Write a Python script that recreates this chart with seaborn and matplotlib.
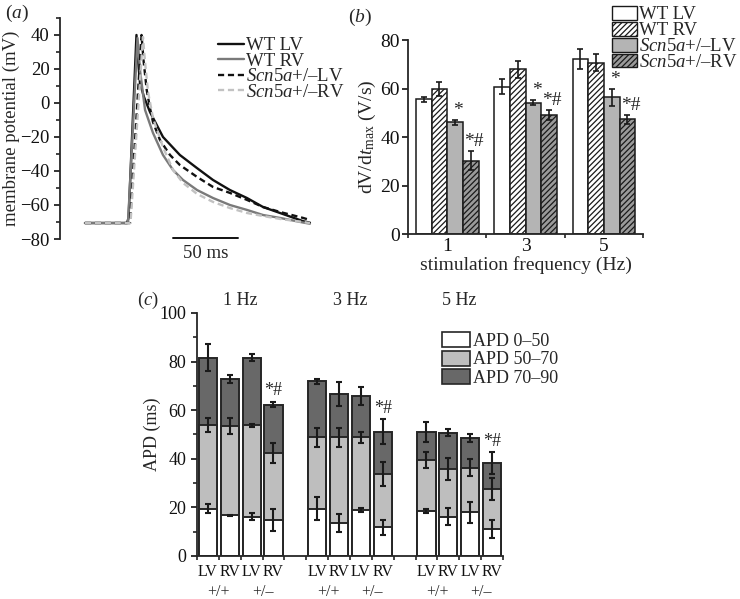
import matplotlib
matplotlib.use("Agg")
import pandas as pd
import matplotlib.pyplot as plt
import matplotlib.transforms as mtransforms
from matplotlib.patches import Patch
from matplotlib.lines import Line2D
from matplotlib.ticker import MultipleLocator, FixedLocator
import seaborn as sns

# ---------------- (a) action potential traces (ms, mV)
wt_lv_t = [0, 32.3, 33.5, 39.6, 40.8, 42.3, 45.4, 50, 60, 73, 86, 98.5, 111.5, 124.6, 137, 150, 167.7, 173]
wt_lv_v = [-70.6, -70.6, -67.6, 40, 25.3, 11.8, 3.5, -5.3, -20, -30.6, -38.2, -45.3, -51.2, -55.9, -61.2, -64.7, -69.5, -70.4]

wt_rv_t = [0, 33.1, 40.4, 42.3, 46.2, 52.3, 60, 67.7, 75.4, 86.2, 98.5, 111.5, 124.6, 137, 150, 167.7, 173]
wt_rv_v = [-70.6, -70.6, 38.2, 19.4, -4.1, -17.6, -30.6, -39.4, -45.3, -51.2, -55.9, -60, -62.9, -65.9, -67.6, -70.3, -71.0]

scn_lv_t = [0, 34.6, 43.5, 45, 47.5, 50, 52.3, 57.7, 65.4, 73, 86.2, 98.5, 111.5, 124.6, 137, 150, 167.7, 173]
scn_lv_v = [-70.6, -70.6, 40, 25.3, 7.6, -3, -11.2, -21.8, -30.6, -36.5, -43.5, -49.4, -52.9, -57, -61.2, -64.1, -67.6, -68.8]

scn_rv_t = [0, 35, 44.6, 46.2, 48.5, 52.3, 56.2, 60, 67.7, 75.4, 86.2, 98.5, 111.5, 124.6, 137, 150, 167.7, 173]
scn_rv_v = [-70.6, -70.6, 38.8, 24.1, 6.5, -8.8, -17.6, -25.9, -39.4, -47, -53.5, -58.2, -61.8, -64.7, -66.5, -68.2, -70, -70.6]

# ---------------- (b) dV/dt max (V/s)
freqs = ["1", "3", "5"]
groups = ["WT LV", "WT RV", "Scn5a+/–LV", "Scn5a+/–RV"]
wt_lv_dvdt = [55.6, 60.8, 72.2]
wt_lv_err = [1.0, 3.0, 4.2]
wt_rv_dvdt = [59.7, 67.9, 70.7]
wt_rv_err = [2.9, 3.6, 3.4]
scn_lv_dvdt = [46.0, 54.2, 56.3]
scn_lv_err = [1.2, 1.1, 3.6]
scn_rv_dvdt = [30.3, 49.1, 47.3]
scn_rv_err = [4.1, 2.2, 1.9]

# ---------------- (c) stacked APD (ms), cumulative tops of each segment
c_bars = ["1 Hz LV +/+", "1 Hz RV +/+", "1 Hz LV +/–", "1 Hz RV +/–",
          "3 Hz LV +/+", "3 Hz RV +/+", "3 Hz LV +/–", "3 Hz RV +/–",
          "5 Hz LV +/+", "5 Hz RV +/+", "5 Hz LV +/–", "5 Hz RV +/–"]
apd50 = [19.5, 16.7, 16.2, 14.8, 19.5, 13.4, 18.9, 11.8, 18.5, 16.2, 17.9, 11.1]
apd50_err = [2.0, 0.2, 1.5, 4.4, 4.7, 3.7, 1.0, 3.1, 1.0, 3.6, 4.2, 3.9]
apd70 = [53.8, 53.4, 53.7, 42.3, 48.8, 48.8, 48.8, 33.6, 39.5, 35.8, 36.4, 27.5]
apd70_err = [2.9, 3.4, 0.8, 4.0, 3.9, 4.0, 2.3, 4.9, 3.3, 4.5, 3.6, 4.6]
apd90 = [81.6, 72.7, 81.6, 62.3, 71.9, 66.6, 65.9, 51.1, 51.1, 50.7, 48.6, 38.1]
apd90_err = [5.5, 1.7, 1.4, 1.1, 1.0, 4.9, 3.8, 5.1, 4.1, 1.5, 1.8, 4.5]
c_freq_labels = ["1 Hz", "3 Hz", "5 Hz"]

sns.set_theme(style="ticks")
plt.rcParams["font.family"] = ["Liberation Serif", "DejaVu Serif"]
plt.rcParams["mathtext.fontset"] = "custom"
plt.rcParams["mathtext.rm"] = "Liberation Serif"
plt.rcParams["mathtext.it"] = "Liberation Serif:italic"
plt.rcParams["axes.linewidth"] = 1.3
plt.rcParams["hatch.linewidth"] = 0.9

FS_A = 13.5
FS_B = 14
FS_C = 13

fig = plt.figure(figsize=(7.4, 5.99), dpi=100)


def style_ticks(ax, fs):
    ax.tick_params(axis="both", which="major", direction="out", length=4,
                   width=1.2, labelsize=fs, color="#111111", labelcolor="#111111")
    ax.tick_params(axis="both", which="minor", direction="out", length=3,
                   width=1.1, color="#111111")


# ================= panel (a)
ax_a = fig.add_axes([0.0811, 0.601, 0.3514, 0.369])
traces = [
    (wt_lv_t, wt_lv_v, "WT LV", "#111111", "-"),
    (wt_rv_t, wt_rv_v, "WT RV", "#7a7a7a", "-"),
    (scn_lv_t, scn_lv_v, r"$\mathit{Scn5a}$+/–LV", "#111111", (0, (2.6, 1.6))),
    (scn_rv_t, scn_rv_v, r"$\mathit{Scn5a}$+/–RV", "#c2c2c2", (0, (2.6, 1.6))),
]
handles_a = []
for t, v, name, col, ls in traces:
    sns.lineplot(x=t, y=v, ax=ax_a, color=col, linestyle=ls, linewidth=1.7,
                 estimator=None, sort=False)
    handles_a.append(Line2D([0], [0], color=col, linestyle=ls, linewidth=1.7, label=name))

ax_a.set_xlim(-19.2, 180.8)
ax_a.set_ylim(-80, 50)
ax_a.yaxis.set_major_locator(FixedLocator([-80, -60, -40, -20, 0, 20, 40]))
ax_a.yaxis.set_minor_locator(MultipleLocator(10))
ax_a.set_xticks([])
for s in ["top", "right", "bottom"]:
    ax_a.spines[s].set_visible(False)
ax_a.set_ylabel("membrane potential (mV)", fontsize=FS_A)
ax_a.yaxis.set_label_coords(-0.152, 0.5)
style_ticks(ax_a, FS_A)
ax_a.set_yticklabels(["−80", "−60", "−40", "−20", "0", "20", "40"])

# 50 ms scale bar
ax_a.plot([68, 118], [-79.5, -79.5], color="#111111", lw=1.4, clip_on=False)
ax_a.text(93, -83.5, "50 ms", ha="center", va="top", fontsize=FS_A, clip_on=False)

fig.legend(handles=handles_a, loc="upper left", bbox_to_anchor=(218 / 740, 1 - 37 / 599),
           frameon=False, fontsize=FS_A, handlelength=1.4, handletextpad=0.12,
           labelspacing=-0.08, borderpad=0, borderaxespad=0)
fig.text(17 / 740, 1 - 13 / 599, r"($\mathit{a}$)", fontsize=FS_A + 0.5, ha="center", va="center")

# ================= panel (b)
ax_b = fig.add_axes([0.5514, 0.6093, 0.3176, 0.3239])
df_b = pd.DataFrame({
    "freq": freqs * 4,
    "group": [g for g in groups for _ in freqs],
    "dvdt": wt_lv_dvdt + wt_rv_dvdt + scn_lv_dvdt + scn_rv_dvdt,
    "err": wt_lv_err + wt_rv_err + scn_lv_err + scn_rv_err,
})
b_fill = ["white", "white", "#b4b4b4", "#9a9a9a"]
b_hatch = [None, "//////", None, "//////"]
sns.barplot(data=df_b, x="freq", y="dvdt", hue="group", order=freqs, hue_order=groups,
            palette=b_fill, saturation=1, errorbar=None, width=0.8, legend=False,
            edgecolor="#1a1a1a", linewidth=1.1, ax=ax_b)

b_marks = [None, None, "*", "*#"]
for cont, g, hatch, mark in zip(ax_b.containers, groups, b_hatch, b_marks):
    sub = df_b[df_b["group"] == g]
    xs = []
    for bar in cont:
        if hatch:
            bar.set_hatch(hatch)
        xs.append(bar.get_x() + bar.get_width() / 2)
    ax_b.errorbar(xs, sub["dvdt"], yerr=sub["err"], fmt="none", ecolor="#1a1a1a",
                  elinewidth=1.2, capsize=2.5, capthick=1.2)
    if mark:
        for x, y, e in zip(xs, sub["dvdt"], sub["err"]):
            ax_b.text(x + 0.04, y + e + 0.3, mark, ha="center", va="bottom", fontsize=FS_B)

ax_b.set_xlim(-0.5, 2.5)
ax_b.set_ylim(0, 80)
ax_b.yaxis.set_major_locator(MultipleLocator(20))
ax_b.xaxis.set_minor_locator(FixedLocator([-0.5, 0.5, 1.5, 2.5]))
sns.despine(ax=ax_b)
style_ticks(ax_b, FS_B)
ax_b.tick_params(axis="y", which="major", pad=2)
ax_b.tick_params(axis="x", which="major", length=0, pad=3)
ax_b.set_xlabel("stimulation frequency (Hz)", fontsize=FS_B)
ax_b.xaxis.set_label_coords(0.5, -0.115)
ax_b.set_ylabel(r"dV/d$\mathit{t}$$_{\rm max}$ (V/s)", fontsize=FS_B)
ax_b.yaxis.set_label_coords(-0.128, 0.5)

handles_b = [Patch(facecolor=f, edgecolor="#1a1a1a", hatch=h, linewidth=1.0,
                   label=(r"$\mathit{Scn5a}$" + g[5:]) if g.startswith("Scn5a") else g)
             for f, h, g in zip(b_fill, b_hatch, groups)]
fig.legend(handles=handles_b, loc="upper left", bbox_to_anchor=(612 / 740, 1 - 6 / 599),
           frameon=False, fontsize=FS_A, handlelength=1.35, handleheight=0.75,
           handletextpad=0.1, labelspacing=-0.08, borderpad=0, borderaxespad=0)
fig.text(360 / 740, 1 - 17 / 599, r"($\mathit{b}$)", fontsize=FS_A + 0.5, ha="center", va="center")

# ================= panel (c)
ax_c = fig.add_axes([0.2662, 0.0718, 0.4135, 0.4057])
c_order = c_bars[:4] + ["gap1"] + c_bars[4:8] + ["gap2"] + c_bars[8:]
df_c = pd.DataFrame({"bar": c_bars, "apd50": apd50, "apd70": apd70, "apd90": apd90})
seg_cols = {"apd90": "#686868", "apd70": "#bebebe", "apd50": "white"}
for col in ["apd90", "apd70", "apd50"]:
    sns.barplot(data=df_c, x="bar", y=col, order=c_order, color=seg_cols[col],
                saturation=1, errorbar=None, width=0.83, edgecolor="#262626",
                linewidth=1.4, ax=ax_c)

xpos = [c_order.index(b) for b in c_bars]
for tops, errs in [(apd50, apd50_err), (apd70, apd70_err), (apd90, apd90_err)]:
    ax_c.errorbar(xpos, tops, yerr=errs, fmt="none", ecolor="#1a1a1a",
                  elinewidth=1.5, capsize=2.5, capthick=1.5, zorder=5)

# significance marks over the +/- RV bars
for b in c_bars:
    if b.endswith("RV +/–"):
        i = c_bars.index(b)
        ax_c.text(xpos[i], apd90[i] + apd90_err[i] + 1.0, "*#", ha="center",
                  va="bottom", fontsize=FS_C)

ax_c.set_xlim(-0.5, 13.5)
ax_c.set_ylim(0, 100)
ax_c.yaxis.set_major_locator(MultipleLocator(20))
ax_c.yaxis.set_minor_locator(MultipleLocator(10))
ax_c.set_xticks(xpos)
ax_c.set_xticklabels([b.split()[2] for b in c_bars])
ax_c.xaxis.set_minor_locator(FixedLocator([p - 0.5 for p in range(15)]))
sns.despine(ax=ax_c)
style_ticks(ax_c, FS_C)
ax_c.tick_params(axis="x", which="major", length=0, pad=6, labelsize=11.5)
ax_c.set_xlabel("")
ax_c.set_ylabel("APD (ms)", fontsize=FS_C)
ax_c.yaxis.set_label_coords(-0.118, 0.5)

trans = mtransforms.blended_transform_factory(ax_c.transData, ax_c.transAxes)
for k, fl in enumerate(c_freq_labels):
    grp = c_bars[4 * k:4 * k + 4]
    p = [c_order.index(b) for b in grp]
    ax_c.text((p[0] + p[1]) / 2, -0.148, "+/+", transform=trans, ha="center",
              va="center", fontsize=11.5)
    ax_c.text((p[2] + p[3]) / 2, -0.148, "+/–", transform=trans, ha="center",
              va="center", fontsize=11.5)
    ax_c.text((p[0] + p[3]) / 2, 1.05, fl, transform=trans, ha="center",
              va="center", fontsize=FS_C)

handles_c = [Patch(facecolor=seg_cols[k], edgecolor="#262626", linewidth=1.2, label=l)
             for k, l in [("apd50", "APD 0–50"), ("apd70", "APD 50–70"), ("apd90", "APD 70–90")]]
fig.legend(handles=handles_c, loc="upper left", bbox_to_anchor=(442 / 740, 1 - 332 / 599),
           frameon=False, fontsize=FS_C, handlelength=1.55, handleheight=0.9,
           handletextpad=0.15, labelspacing=0.05, borderpad=0, borderaxespad=0)
fig.text(148 / 740, 1 - 300 / 599, r"($\mathit{c}$)", fontsize=FS_A, ha="center", va="center")

fig.savefig("out.png", dpi=100)
